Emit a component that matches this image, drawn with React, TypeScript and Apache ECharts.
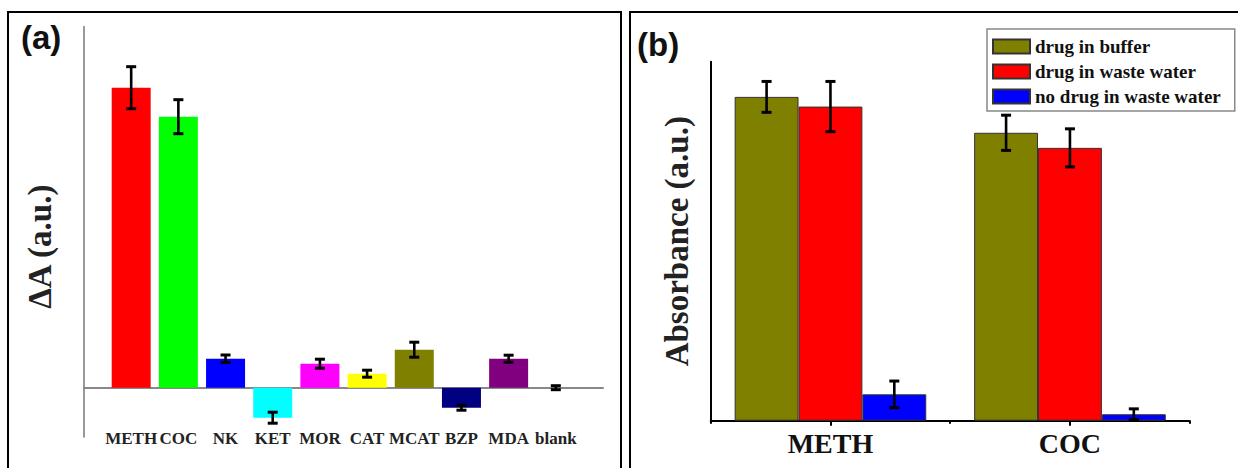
import React, { useEffect, useRef } from "react";
import * as echarts from "echarts";

// Panel (a): selectivity
const catsA = ["METH", "COC", "NK", "KET", "MOR", "CAT", "MCAT", "BZP", "MDA", "blank"];
const valsA = [3.0, 2.71, 0.29, -0.3, 0.24, 0.14, 0.38, -0.2, 0.29, 0];
const errA = [0.21, 0.17, 0.037, 0.055, 0.045, 0.035, 0.075, 0.025, 0.035, 0.02];
const colorsA = ["#ff0000", "#00ff00", "#0000ff", "#00ffff", "#ff00ff", "#ffff00", "#808000", "#000080", "#800080", "#000000"];

// Panel (b): real samples
const catsB = ["METH", "COC"];
const seriesNamesB = ["drug in buffer", "drug in waste water", "no drug in waste water"];
const colorsB = ["#808000", "#ff0000", "#0000ff"];
const buffer = [0.902, 0.802];
const waste = [0.875, 0.76];
const noDrug = [0.0735, 0.018];
const bufferErr = [0.043, 0.049];
const wasteErr = [0.07, 0.053];
const noDrugErr = [0.037, 0.015];

const SERIF = "Liberation Serif";
const SANS = "Liberation Sans";

export default function App() {
  const ref = useRef<HTMLDivElement>(null);
  useEffect(() => {
    if (!ref.current) return;
    const chart = echarts.init(ref.current, null, { renderer: "svg" });
    const padCats = ["", ...catsA, ""];
    const barDataA: any[] = ["-", ...valsA.map((v, i) => ({ value: v, itemStyle: { color: colorsA[i] } })), "-"];
    const errDataA = valsA.map((v, i) => [i + 1, v, errA[i]]);

    const valsB = [buffer, waste, noDrug];
    const errsB = [bufferErr, wasteErr, noDrugErr];

    const errRender = (offsetIndex: number | null) => (params: any, api: any) => {
      const cx = api.value(0);
      const v = api.value(1);
      const e = api.value(2);
      let x = api.coord([cx, v])[0];
      if (offsetIndex !== null) {
        const band = api.size([1, 0])[0];
        const bw = (band * 0.8) / 3;
        x += (offsetIndex - 1) * bw;
      }
      const yHi = api.coord([cx, v + e])[1];
      const yLo = api.coord([cx, v - e])[1];
      const style = { stroke: "#000", lineWidth: 2.6 };
      const cap = { stroke: "#000", lineWidth: 3 };
      return {
        type: "group",
        children: [
          { type: "line", shape: { x1: x, y1: yHi, x2: x, y2: yLo }, style },
          { type: "line", shape: { x1: x - 5, y1: yHi, x2: x + 5, y2: yHi }, style: cap },
          { type: "line", shape: { x1: x - 5, y1: yLo, x2: x + 5, y2: yLo }, style: cap },
        ],
      };
    };

    const option: any = {
      animation: false,
      backgroundColor: "#ffffff",
      grid: [
        { left: 84, top: 26.7, width: 519, height: 410, outerBoundsMode: "none", containLabel: false },
        { left: 710.7, top: 61.7, width: 479, height: 359, outerBoundsMode: "none", containLabel: false },
      ],
      legend: {
        data: seriesNamesB,
        orient: "vertical",
        left: 987,
        top: 29,
        padding: [8, 14, 5, 5],
        itemWidth: 37,
        itemHeight: 14,
        itemGap: 6,
        borderColor: "#888",
        borderWidth: 1.5,
        borderRadius: 0,
        icon: "rect",
        textStyle: { fontFamily: SERIF, fontWeight: "bold", fontSize: 19, lineHeight: 19, color: "#111" },
      },
      xAxis: [
        {
          type: "category",
          gridIndex: 0,
          data: padCats,
          boundaryGap: false,
          axisLine: { show: true, onZero: true, lineStyle: { color: "#888", width: 2 } },
          axisTick: { show: false },
          axisLabel: { interval: 0, margin: -7, fontFamily: SERIF, fontWeight: "bold", fontSize: 17, color: "#222" },
          splitLine: { show: false },
        },
        {
          type: "category",
          gridIndex: 1,
          data: catsB,
          position: "bottom",
          axisLine: { show: true, lineStyle: { color: "#000", width: 2 } },
          axisTick: { show: true, alignWithLabel: true, length: 5, lineStyle: { color: "#000", width: 2 } },
          axisLabel: { margin: 9, fontFamily: SERIF, fontWeight: "bold", fontSize: 28, color: "#111" },
          splitLine: { show: false },
        },
        {
          type: "category",
          gridIndex: 1,
          data: catsB,
          position: "bottom",
          axisLine: { show: false },
          axisTick: { show: true, interval: 0, length: 3, lineStyle: { color: "#000", width: 2 } },
          axisLabel: { show: false },
          splitLine: { show: false },
        },
      ],
      yAxis: [
        {
          type: "value",
          gridIndex: 0,
          min: -0.49,
          max: 3.61,
          axisLine: { show: true, lineStyle: { color: "#999", width: 2 } },
          axisTick: { show: false },
          axisLabel: { show: false },
          splitLine: { show: false },
          name: "ΔA (a.u.)",
          nameLocation: "middle",
          nameGap: 28,
          nameTextStyle: { fontFamily: SERIF, fontWeight: "bold", fontSize: 33, color: "#222", padding: [0, 30, 0, 0] },
        },
        {
          type: "value",
          gridIndex: 1,
          min: 0,
          max: 1,
          axisLine: { show: true, lineStyle: { color: "#000", width: 2 } },
          axisTick: { show: false },
          axisLabel: { show: false },
          splitLine: { show: false },
          name: "Absorbance (a.u.)",
          nameLocation: "middle",
          nameGap: 17,
          nameTextStyle: { fontFamily: SERIF, fontWeight: "bold", fontSize: 33, color: "#222" },
        },
      ],
      series: [
        {
          type: "bar",
          xAxisIndex: 0,
          yAxisIndex: 0,
          barWidth: 39,
          data: barDataA,
        },
        {
          type: "custom",
          xAxisIndex: 0,
          yAxisIndex: 0,
          z: 5,
          renderItem: errRender(null),
          encode: { x: 0, y: 1 },
          data: errDataA,
        },
        ...seriesNamesB.map((name, s) => ({
          type: "bar",
          name,
          xAxisIndex: 1,
          yAxisIndex: 1,
          barGap: "0%",
          barCategoryGap: "20%",
          itemStyle: { color: colorsB[s], borderColor: "#333", borderWidth: 1 },
          data: valsB[s],
        })),
        ...seriesNamesB.map((name, s) => ({
          type: "custom",
          xAxisIndex: 1,
          yAxisIndex: 1,
          z: 5,
          renderItem: errRender(s),
          encode: { x: 0, y: 1 },
          data: valsB[s].map((v, i) => [i, v, errsB[s][i]]),
        })),
      ],
      graphic: [
        { type: "rect", shape: { x: 8, y: 12, width: 613, height: 470 }, style: { fill: "none", stroke: "#000", lineWidth: 2 }, silent: true },
        { type: "rect", shape: { x: 630, y: 12, width: 620, height: 470 }, style: { fill: "none", stroke: "#000", lineWidth: 2 }, silent: true },
        { type: "text", left: 21, top: 21, style: { text: "(a)", font: `bold 33px "${SANS}"`, fill: "#111" } },
        { type: "text", left: 637, top: 28, style: { text: "(b)", font: `bold 33px "${SANS}"`, fill: "#111" } },
      ],
    };
    chart.setOption(option);
    return () => chart.dispose();
  }, []);
  return <div ref={ref} style={{ position: "fixed", left: 0, top: 0, width: 1238, height: 468 }} />;
}
